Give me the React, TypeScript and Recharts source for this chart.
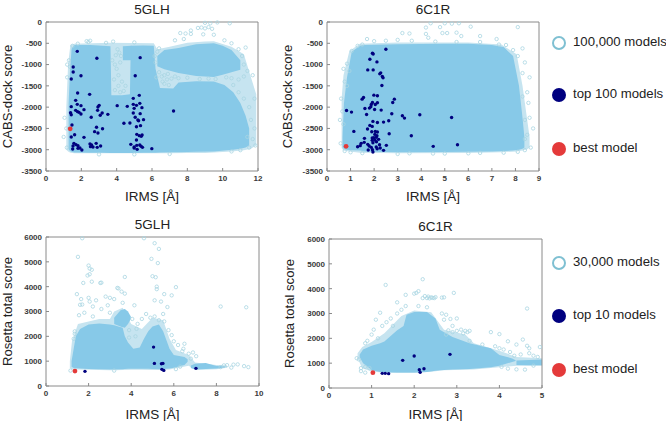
import React from "react";
import {
  ComposedChart,
  Area,
  Scatter,
  XAxis,
  YAxis,
  Label,
} from "recharts";

type Tuple = [number, number];
type Band = [number, number, number];

const CLOUD = "#87c9e8";
const FRINGE = "#c6e4f0";
const RING = "#a9d5e2";
const NAVY = "#00007f";
const RED = "#e43a3a";

// ---- 5GLH / CABS-dock ----
// dense part of the cloud: [irms, low, high]
const cabs5glhMain: Band[] = [
  [1.28, -2990, -1900], [1.36, -3030, -1150], [1.45, -3045, -620], [1.6, -3065, -540], [2.5, -3070, -540],
  [3.2, -3070, -560], [3.65, -3075, -570], [3.7, -3075, -1720], [4.3, -3075, -1720], [4.75, -3075, -1700],
  [4.8, -3075, -560], [5.5, -3070, -550], [6.1, -3070, -560], [6.2, -3070, -1100], [6.45, -3065, -1550],
  [7.2, -3060, -1560], [7.5, -3060, -1420], [8.5, -3050, -1390], [9.5, -3040, -1400], [10.1, -3020, -1480],
  [10.6, -3000, -1650], [11, -2980, -1900], [11.3, -2950, -2200], [11.5, -2900, -2500],
];
const cabs5glhColumn: Band[] = [
  [4.35, -900, -570], [4.85, -900, -560],
];
const cabs5glhUpper: Band[] = [
  [6.3, -1040, -800], [6.7, -1110, -660], [7.5, -1200, -610], [8.5, -1270, -520], [9.5, -1290, -500],
  [10, -1240, -560], [10.5, -1180, -660], [11, -1120, -900],
];
// sparser rings around the dense part
const cabs5glhFringe: Band[] = [
  [1.15, -3000, -2000], [1.25, -3040, -1000], [1.38, -3070, -540], [1.6, -3085, -510], [3.65, -3085, -490], [6.1, -3085, -500],
  [6.3, -3085, -640], [7, -3085, -580], [8, -3080, -490], [9, -3075, -460], [9.5, -3065, -450], [10.5, -3040, -580],
  [11.2, -3010, -760], [11.6, -2980, -1300], [11.9, -2900, -1700],
];
const cabs5glhRings: Tuple[] = [
  [8.6, -140], [8.8, -130], [9, -150], [9.2, -120], [9.3, -30], [9, -20], [9.4, -160], [8.2, -200], [7.6, -260],
  [7.9, -270], [8.2, -280], [8.9, -290], [9.5, -300], [10.4, -30], [9.7, -10], [7.3, -430], [7.8, -400],
  [2.3, -450], [2.5, -440], [2.4, -470], [3.4, -490], [3.8, -460], [5, -480], [1.8, -510], [1.5, -560],
  [1.3, -900], [1.2, -1000], [1.35, -1050], [1.2, -1300], [1.05, -2250], [1, -2700], [1.15, -2500], [1.18, -2950],
  [3.75, -900], [3.9, -1000], [4, -1100], [4.2, -950], [4.1, -1250], [3.85, -1350], [4.3, -1400], [4.5, -1500],
  [4.1, -1500], [3.9, -1600], [4.4, -1620], [4.2, -1650], [3.95, -780], [4.15, -720], [4.05, -640], [4.25, -800],
  [6.15, -800], [6.3, -700], [6.2, -950], [6.4, -620], [6.25, -1300], [6.4, -1180], [6.55, -1280], [6.7, -1250],
  [6.85, -1350], [6.7, -1450], [6.95, -1480], [7.1, -1330], [6.6, -1400], [6.9, -1220], [7.3, -1280], [7.5, -1320],
  [8, -1310], [8.7, -1340], [9.2, -1330], [9.6, -1340], [10.2, -1300], [10.5, -1320], [10.9, -1350], [11.2, -1280],
  [10.6, -1480], [10.9, -1650], [11.2, -1800], [11.5, -2000], [11.8, -1800], [11.6, -2300], [11.8, -2500],
  [11.4, -2700], [11.7, -2750], [11.85, -2900], [11.5, -2950], [11, -3010], [10.5, -3040], [11.2, -1000], [11.4, -1150],
  [11.1, -800], [10.9, -640], [10.5, -500], [10.1, -430], [11.7, -1250], [11.3, -600], [5, -3110], [7, -3100], [3, -3110],
];
const cabs5glhTop: Tuple[] = [
  [1.77, -689], [2.88, -853], [5.33, -838], [1.54, -1057], [1.54, -1175], [1.98, -1261], [1.43, -1339], [5.05, -1261],
  [1.79, -1668], [2.47, -1699], [5.28, -1723], [4.94, -1793], [1.68, -1840], [4.03, -1965], [4.6, -1981], [1.77, -1934],
  [1.43, -1989], [1.98, -1965], [3.01, -1958], [2.94, -1997], [4.94, -1934], [5.12, -1958], [5.43, -2012], [4.99, -2028],
  [5.31, -1911], [2.92, -2075], [1.68, -2075], [1.79, -2106], [1.87, -2122], [1.39, -2130], [1.43, -2177], [1.98, -2161],
  [2.15, -2059], [3.18, -2138], [3.07, -2192], [2.56, -2239], [3.5, -2169], [4.94, -2138], [5.05, -2239], [5.33, -2153],
  [5.2, -2302], [5.52, -2294], [7.22, -2090], [4.41, -2380], [4.75, -2373], [5.24, -2318], [5.35, -2435], [5.12, -2459],
  [1.47, -2419], [2.86, -2474], [3.2, -2506], [2.75, -2576], [2.94, -2607], [1.62, -2647], [2.15, -2709], [1.43, -2701],
  [5.14, -2639], [5.28, -2670], [5.39, -2686], [5.44, -2654], [5.12, -2772], [1.58, -2850], [1.7, -2881], [1.81, -2905],
  [2.84, -2850], [2.49, -2866], [2.58, -2889], [1.53, -2913], [1.92, -2960], [2.52, -2928], [2.66, -2936], [3.09, -2913],
  [2.9, -2944], [4.8, -2874], [4.99, -2936], [5.14, -2897], [5.31, -2889], [5.39, -2921], [1.51, -2983], [1.81, -2968],
  [2.03, -3007], [5.46, -2944], [5.99, -2975], [4.99, -2960], [5.16, -2991],
];
const cabs5glhBest: Tuple[] = [[1.37, -2510]];

// ---- 6C1R / CABS-dock ----
const cabs6c1rMain: Band[] = [
  [0.66, -2950, -2700], [0.72, -2980, -1900], [0.85, -3000, -1300], [1.05, -3015, -700], [1.4, -3020, -560],
  [1.6, -3040, -540], [3, -3060, -520], [5, -3055, -510], [6, -3050, -510], [7, -3040, -540], [7.5, -3030, -590],
  [7.9, -3020, -800], [8.15, -3000, -1500], [8.3, -2980, -2250], [8.38, -2950, -2700],
];
const cabs6c1rFringe: Band[] = [
  [0.62, -2960, -1800], [0.7, -3020, -1250], [0.95, -3040, -680], [1.4, -3070, -510], [3, -3085, -480], [6, -3080, -480],
  [7.4, -3060, -530], [8.05, -3040, -760], [8.3, -3020, -1500], [8.5, -2990, -2300], [8.6, -2950, -2700],
];
const cabs6c1rRings: Tuple[] = [
  [4.4, -30], [4.8, -120], [5, -30], [5.3, -40], [5.6, -30], [6.1, -110], [5.1, -260], [5.5, -250], [4.2, -130],
  [3.2, -260], [3.5, -270], [4.2, -280], [4.9, -260], [5.7, -330], [6.5, -330], [7.2, -400], [8.1, -120], [4.3, -370],
  [1.7, -400], [2, -450], [2.5, -440], [3, -420], [3.6, -440], [4.6, -460], [5.5, -470], [6.5, -470], [7.3, -530],
  [1.3, -560], [1.5, -530], [1.05, -680], [0.85, -980], [0.7, -1100], [0.95, -1150], [0.75, -1400], [0.85, -1500],
  [0.6, -1800], [0.65, -2100], [0.55, -2300], [0.7, -2400], [0.58, -2850], [0.75, -3030], [1, -3060], [1.5, -3080],
  [7.6, -540], [7.9, -660], [8.1, -800], [8.3, -620], [8.4, -950], [8.3, -1200], [8.6, -1300], [8.5, -1650],
  [8.3, -1750], [8.55, -1900], [8.6, -2250], [8.4, -2300], [8.75, -2500], [8.5, -2650], [8.4, -2750], [8.65, -2950],
  [8.4, -3010], [8.1, -3050], [7.5, -3070], [6.5, -3075], [5, -3090], [3.5, -3085], [3, -3100], [4.5, -3090], [6, -3085],
];
const cabs6c1rTop: Tuple[] = [
  [2.5, -640], [1.93, -734], [1.96, -750], [1.82, -875], [2.12, -937], [1.73, -1125], [1.96, -1125], [2.28, -1195],
  [2.24, -1218], [2.35, -1281], [2.38, -1312], [2.33, -1492], [1.99, -1718], [2.14, -1734], [1.55, -1773], [1.49, -1812],
  [2.86, -1812], [2.79, -1890], [1.93, -1890], [1.88, -1937], [2.05, -1937], [2.14, -1898], [1.86, -1992], [1.8, -2023],
  [1.61, -2031], [2.02, -2054], [2.3, -2070], [0.83, -2078], [1.04, -2117], [1.68, -2172], [2.75, -2156], [3.2, -2203],
  [3.29, -2257], [3.94, -2179], [5.29, -2242], [1.95, -2335], [2.14, -2359], [2.4, -2351], [2.62, -2320], [1.82, -2429],
  [1.92, -2452], [1.72, -2515], [1.14, -2570], [1.9, -2577], [2.05, -2570], [2.14, -2585], [2.64, -2624], [3.58, -2671],
  [2.03, -2640], [2.12, -2671], [1.59, -2733], [1.99, -2718], [2.09, -2710], [1.92, -2726], [2.19, -2757], [2.03, -2772],
  [1.92, -2780], [1.95, -2835], [2.1, -2812], [1.58, -2827], [1.45, -2851], [1.73, -2874], [2.23, -2882], [2.52, -2898],
  [5.54, -2882], [4.51, -2921], [1.41, -2905], [1.3, -2929], [1.79, -2913], [1.88, -2944], [2.09, -2936], [2.26, -2960],
  [1.75, -3007], [1.93, -2999], [2.4, -3015], [1.95, -3054], [2.13, -2976],
];
const cabs6c1rBest: Tuple[] = [[0.81, -2920]];

// ---- 5GLH / Rosetta ----
const ros5glhMain: Band[] = [
  [1.2, 780, 1000], [1.3, 720, 1500], [1.4, 710, 2000], [1.6, 700, 2300], [2, 680, 2480], [2.5, 670, 2520],
  [3, 660, 2480], [3.2, 660, 2450], [3.6, 670, 2350], [3.7, 680, 2000], [3.85, 690, 1750], [4.1, 690, 1500],
  [4.4, 690, 1550], [4.6, 690, 1900], [4.8, 690, 2200], [5, 680, 2400], [5.3, 670, 2480], [5.5, 680, 2200],
  [5.8, 700, 1500], [6, 730, 1250], [6.5, 850, 1170], [6.65, 980, 1080],
];
const ros5glhBlob: Band[] = [
  [3.2, 2500, 2750], [3.5, 2400, 3050], [3.7, 2350, 3100], [3.85, 2500, 3000], [3.98, 2700, 2800],
];
const ros5glhTail: Band[] = [
  [6.8, 720, 830], [7, 660, 900], [7.5, 680, 930], [8, 700, 810], [8.4, 750, 800],
];
const ros5glhFringe: Band[] = [
  [1.12, 720, 1000], [1.22, 660, 1800], [1.5, 660, 2500], [2.5, 640, 2700], [3, 630, 2700], [3.2, 630, 3000],
  [3.6, 640, 3150], [4, 650, 2500], [4.5, 650, 2300], [5, 640, 2750], [5.5, 640, 2650], [5.8, 660, 1900],
  [6.1, 710, 1450], [6.7, 820, 1250], [7, 640, 950], [8, 670, 850], [8.5, 730, 840],
];
const ros5glhRings: Tuple[] = [
  [1.7, 5950], [4.6, 5950], [5.1, 5750], [5.3, 5520], [1.5, 5200], [4.95, 5120], [5.25, 4950], [2, 4850], [2.05, 4730],
  [2.15, 4680], [2.05, 4500], [1.95, 4450], [5, 4420], [5.15, 4380], [3.7, 4390], [5.2, 4000], [5.2, 3900], [6.1, 3980],
  [1.75, 4150], [2.15, 4200], [2.55, 4150], [2.6, 4160], [3.35, 3950], [3.4, 3930], [3.55, 3800], [3.7, 3720], [5.55, 3700],
  [5.9, 3650], [1.45, 3700], [1.65, 3500], [2, 3550], [2.05, 3400], [2.35, 3450], [2.8, 3600], [3, 3550], [3.2, 3500],
  [3.6, 3350], [4.15, 3250], [5.1, 3450], [5.4, 3400], [5.7, 3180], [8.2, 3200], [9.4, 3170], [1.6, 3270], [1.7, 3280],
  [2.2, 3200], [2.6, 3100], [2.9, 3250], [3, 2950], [1.55, 2850], [1.8, 2950], [2.2, 2800], [1.35, 2200], [1.3, 1900],
  [1.35, 2100], [4.05, 2700], [4.3, 2500], [4.5, 2700], [4.7, 2900], [4.9, 2750], [5.1, 2800], [5.3, 2650], [5.5, 2900],
  [5.55, 2600], [4.25, 2300], [3.9, 2250], [4.2, 2000], [3.9, 1950], [5.75, 2250], [5.9, 2050], [6, 1800], [6.2, 1650],
  [6.5, 1700], [6.45, 1500], [6.7, 1300], [6.9, 1350], [7.05, 1200], [6.8, 1100], [6.4, 1400], [8.5, 840], [8.8, 860],
  [9, 870], [9.3, 800], [9.5, 760], [8.7, 740], [6.3, 780], [6.1, 680], [1.15, 620], [3.2, 620], [8.2, 760], [8.35, 830],
];
const ros5glhTop: Tuple[] = [
  [1.83, 589], [5.05, 1567], [5.09, 911], [5.42, 897], [5.49, 911], [5.44, 670], [5.53, 629], [7.04, 710],
];
const ros5glhBest: Tuple[] = [[1.36, 603]];

// ---- 6C1R / Rosetta ----
const ros6c1rMain: Band[] = [
  [0.72, 1250, 1350], [0.8, 1000, 1550], [1, 720, 1700], [1.2, 640, 1800], [1.3, 630, 1870], [1.6, 620, 2330],
  [1.75, 620, 2500], [1.82, 620, 2950], [2, 620, 3060], [2.3, 640, 3060], [2.5, 690, 2800], [2.6, 710, 2350],
  [2.9, 740, 2050], [3.3, 765, 1800], [3.8, 840, 1600], [4, 900, 1330], [4.3, 1050, 1190], [4.38, 1090, 1120],
];
const ros6c1rTail: Band[] = [
  [4.4, 930, 1110], [4.7, 920, 1130], [5, 920, 1150],
];
const ros6c1rFringe: Band[] = [
  [0.67, 1200, 1400], [0.78, 800, 1650], [1, 660, 1850], [1.3, 610, 2200], [1.7, 600, 2900], [2, 600, 3120], [2.4, 650, 3050],
  [2.7, 710, 2350], [3.2, 730, 2150], [3.4, 740, 1800], [4, 840, 1500], [4.4, 900, 1250], [5, 900, 1200],
];
const ros6c1rRings: Tuple[] = [
  [1.33, 4150], [2.2, 4380], [2.05, 3830], [2.1, 3900], [1.8, 3750], [2, 3800], [2.93, 3830], [2.7, 3650], [2.65, 3640],
  [2.25, 3700], [2.3, 3620], [2.33, 3680], [2.36, 3610], [2.4, 3650], [2.43, 3630], [2.47, 3620], [2.5, 3660], [2.2, 3620],
  [4.65, 3200], [1.6, 3450], [1.8, 3300], [2.1, 3300], [2.3, 3250], [1.2, 3030], [1.6, 3000], [1.7, 3150], [2.65, 3000],
  [2.75, 2950], [1.1, 2750], [1.25, 2500], [1.35, 2650], [1.45, 2800], [1.5, 2500], [1.05, 2350], [1, 2150], [0.9, 1900],
  [0.85, 1800], [1.15, 2000], [2.7, 2750], [2.85, 2780], [3, 2800], [2.9, 2500], [3.1, 2350], [3.2, 2300], [3.25, 2250],
  [2.8, 2320], [2.9, 2250], [3, 2300], [3.15, 2200], [3.3, 2300], [2.75, 2150], [3.8, 2250], [4, 2170], [3.3, 1900],
  [3.6, 1750], [3.9, 1680], [4, 1600], [4.1, 1550], [4.2, 1880], [4.4, 1750], [4.25, 1450], [4.55, 1950], [4.65, 1700],
  [4.7, 1600], [4.95, 1650], [4.5, 1350], [4.8, 1300], [4.7, 1400], [4.9, 1250], [4.35, 1300], [0.65, 1200], [0.7, 1150],
  [0.75, 800], [0.85, 850], [0.95, 800], [0.75, 680], [0.85, 620], [4.4, 750], [4.6, 740], [4.8, 900], [4.2, 780], [4.05, 850],
];
const ros6c1rTop: Tuple[] = [
  [1.73, 1114], [2, 1288], [2.84, 1355], [1.25, 590], [1.32, 590], [1.4, 577], [2.12, 738], [2.14, 631], [2.23, 778],
];
const ros6c1rBest: Tuple[] = [[1.03, 617]];

const cabsYTicks = [-3500, -3000, -2500, -2000, -1500, -1000, -500, 0];
const rosYTicks = [0, 1000, 2000, 3000, 4000, 5000, 6000];
const xTicks12 = [0, 2, 4, 6, 8, 10, 12];
const xTicks9 = [0, 1, 2, 3, 4, 5, 6, 7, 8, 9];
const xTicks10 = [0, 2, 4, 6, 8, 10];
const xTicks5 = [0, 1, 2, 3, 4, 5];

const legendTop = ["100,000 models", "top 100 models", "best model"];
const legendBottom = ["30,000 models", "top 10 models", "best model"];

const toPoints = (list: Tuple[]) => list.map(([x, y]) => ({ x, y }));
const toBand = (list: Band[]) => list.map(([x, low, high]) => ({ x, range: [low, high] }));

const ringDot = (p: any) => <circle cx={p.cx} cy={p.cy} r={1.7} fill="none" stroke={RING} strokeWidth={0.8} />;
const topDot = (p: any) => <circle cx={p.cx} cy={p.cy} r={1.7} fill={NAVY} />;
const bestDot = (p: any) => <circle cx={p.cx} cy={p.cy} r={2.4} fill={RED} />;

const FONT = "'Liberation Sans', Arial, sans-serif";
const axisColor = "#8a8a8a";
const tickStyle = { fontSize: 8, fontFamily: FONT, fontWeight: 700, fill: "#3a3a3a" };

interface PanelProps {
  title: string;
  yLabel: string;
  left: number;
  top: number;
  plotLeft: number;
  plotTop: number;
  plotW: number;
  plotH: number;
  xMax: number;
  yDomain: [number, number];
  xTicks: number[];
  yTicks: number[];
  fringe: Band[];
  bands: Band[][];
  rings: Tuple[];
  topModels: Tuple[];
  best: Tuple[];
  xLabelOffset: number;
  yLabelOffset: number;
}

const Panel = (props: PanelProps) => {
  const { title, yLabel, left, top, plotLeft, plotTop, plotW, plotH, xMax, yDomain, xTicks, yTicks, fringe, bands, rings, topModels, best, xLabelOffset, yLabelOffset } = props;
  const xH = 44;
  return (
    <div style={{ position: "absolute", left, top }}>
      <div
        style={{
          position: "absolute",
          left: plotLeft,
          width: plotW,
          top: plotTop - 20,
          textAlign: "center",
          font: `13.5px ${FONT}`,
          color: "#222",
        }}
      >
        {title}
      </div>
      <ComposedChart
        width={plotLeft + plotW + 12}
        height={plotTop + plotH + xH}
        margin={{ top: plotTop - 1, left: 0, right: 11, bottom: 0 }}
      >
        <XAxis
          xAxisId="b"
          dataKey="x"
          type="number"
          domain={[0, xMax]}
          ticks={xTicks}
          height={xH}
          stroke={axisColor}
          tickSize={-3}
          tickMargin={7}
          tick={tickStyle}
          interval={0}
        >
          <Label value="IRMS [Å]" position="insideBottom" offset={xLabelOffset} style={{ fontSize: 13.5, fontFamily: FONT, fill: "#222" }} />
        </XAxis>
        <XAxis
          xAxisId="t"
          orientation="top"
          dataKey="x"
          type="number"
          domain={[0, xMax]}
          ticks={xTicks}
          height={1}
          stroke={axisColor}
          tickSize={-3}
          tickFormatter={() => ""}
          interval={0}
        />
        <YAxis
          yAxisId="l"
          dataKey="y"
          type="number"
          domain={yDomain}
          ticks={yTicks}
          width={plotLeft}
          stroke={axisColor}
          tickSize={-3}
          tickMargin={7}
          tick={tickStyle}
          interval={0}
        >
          <Label
            value={yLabel}
            angle={-90}
            position="insideLeft"
            offset={yLabelOffset}
            style={{ fontSize: 13.1, fontFamily: FONT, fill: "#222", textAnchor: "middle" }}
          />
        </YAxis>
        <YAxis
          yAxisId="r"
          orientation="right"
          dataKey="y"
          type="number"
          domain={yDomain}
          ticks={yTicks}
          width={1}
          stroke={axisColor}
          tickSize={-3}
          tickFormatter={() => ""}
          interval={0}
        />
        <Area
          xAxisId="b"
          yAxisId="l"
          data={toBand(fringe)}
          dataKey="range"
          type="linear"
          stroke="none"
          fill={FRINGE}
          fillOpacity={1}
          dot={false}
          activeDot={false}
          isAnimationActive={false}
        />
        {bands.map((band, i) => (
          <Area
            key={i}
            xAxisId="b"
            yAxisId="l"
            data={toBand(band)}
            dataKey="range"
            type="linear"
            stroke="none"
            fill={CLOUD}
            fillOpacity={1}
            dot={false}
            activeDot={false}
            isAnimationActive={false}
          />
        ))}
        <Scatter xAxisId="b" yAxisId="l" data={toPoints(rings)} shape={ringDot} isAnimationActive={false} />
        <Scatter xAxisId="b" yAxisId="l" data={toPoints(topModels)} shape={topDot} isAnimationActive={false} />
        <Scatter xAxisId="b" yAxisId="l" data={toPoints(best)} shape={bestDot} isAnimationActive={false} />
      </ComposedChart>
    </div>
  );
};

const Legend = ({ labels, ys }: { labels: string[]; ys: number[] }) => (
  <>
    {labels.map((label, i) => (
      <div key={label}>
        <div
          style={{
            position: "absolute",
            left: 552,
            top: ys[i] - 7,
            width: 14,
            height: 14,
            boxSizing: "border-box",
            borderRadius: "50%",
            border: i === 0 ? "2px solid #7fc0d2" : "none",
            background: i === 0 ? "transparent" : i === 1 ? NAVY : RED,
          }}
        />
        <div
          style={{
            position: "absolute",
            left: 573,
            top: ys[i] - 9,
            font: `13.2px ${FONT}`,
            color: "#222",
            whiteSpace: "nowrap",
          }}
        >
          {label}
        </div>
      </div>
    ))}
  </>
);

const App = () => (
  <div style={{ position: "absolute", left: 0, top: 0, width: 666, height: 421, background: "#fff", overflow: "hidden" }}>
    <Panel
      title="5GLH"
      yLabel="CABS-dock score"
      left={0}
      top={0}
      plotLeft={46}
      plotTop={22}
      plotW={212}
      plotH={149}
      xMax={12}
      yDomain={[-3500, 0]}
      xTicks={xTicks12}
      yTicks={cabsYTicks}
      fringe={cabs5glhFringe}
      bands={[cabs5glhMain, cabs5glhColumn, cabs5glhUpper]}
      rings={cabs5glhRings}
      topModels={cabs5glhTop}
      best={cabs5glhBest}
      xLabelOffset={14}
      yLabelOffset={7}
    />
    <Panel
      title="6C1R"
      yLabel="CABS-dock score"
      left={280}
      top={0}
      plotLeft={47}
      plotTop={22}
      plotW={212}
      plotH={149}
      xMax={9}
      yDomain={[-3500, 0]}
      xTicks={xTicks9}
      yTicks={cabsYTicks}
      fringe={cabs6c1rFringe}
      bands={[cabs6c1rMain]}
      rings={cabs6c1rRings}
      topModels={cabs6c1rTop}
      best={cabs6c1rBest}
      xLabelOffset={14}
      yLabelOffset={7}
    />
    <Panel
      title="5GLH"
      yLabel="Rosetta total score"
      left={0}
      top={210}
      plotLeft={46}
      plotTop={27}
      plotW={213}
      plotH={149}
      xMax={10}
      yDomain={[0, 6000]}
      xTicks={xTicks10}
      yTicks={rosYTicks}
      fringe={ros5glhFringe}
      bands={[ros5glhMain, ros5glhBlob, ros5glhTail]}
      rings={ros5glhRings}
      topModels={ros5glhTop}
      best={ros5glhBest}
      xLabelOffset={11}
      yLabelOffset={7}
    />
    <Panel
      title="6C1R"
      yLabel="Rosetta total score"
      left={280}
      top={210}
      plotLeft={49}
      plotTop={29}
      plotW={213}
      plotH={149}
      xMax={5}
      yDomain={[0, 6000]}
      xTicks={xTicks5}
      yTicks={rosYTicks}
      fringe={ros6c1rFringe}
      bands={[ros6c1rMain, ros6c1rTail]}
      rings={ros6c1rRings}
      topModels={ros6c1rTop}
      best={ros6c1rBest}
      xLabelOffset={13}
      yLabelOffset={9}
    />
    <Legend labels={legendTop} ys={[43, 95, 149]} />
    <Legend labels={legendBottom} ys={[263, 316, 370]} />
  </div>
);

export default App;
